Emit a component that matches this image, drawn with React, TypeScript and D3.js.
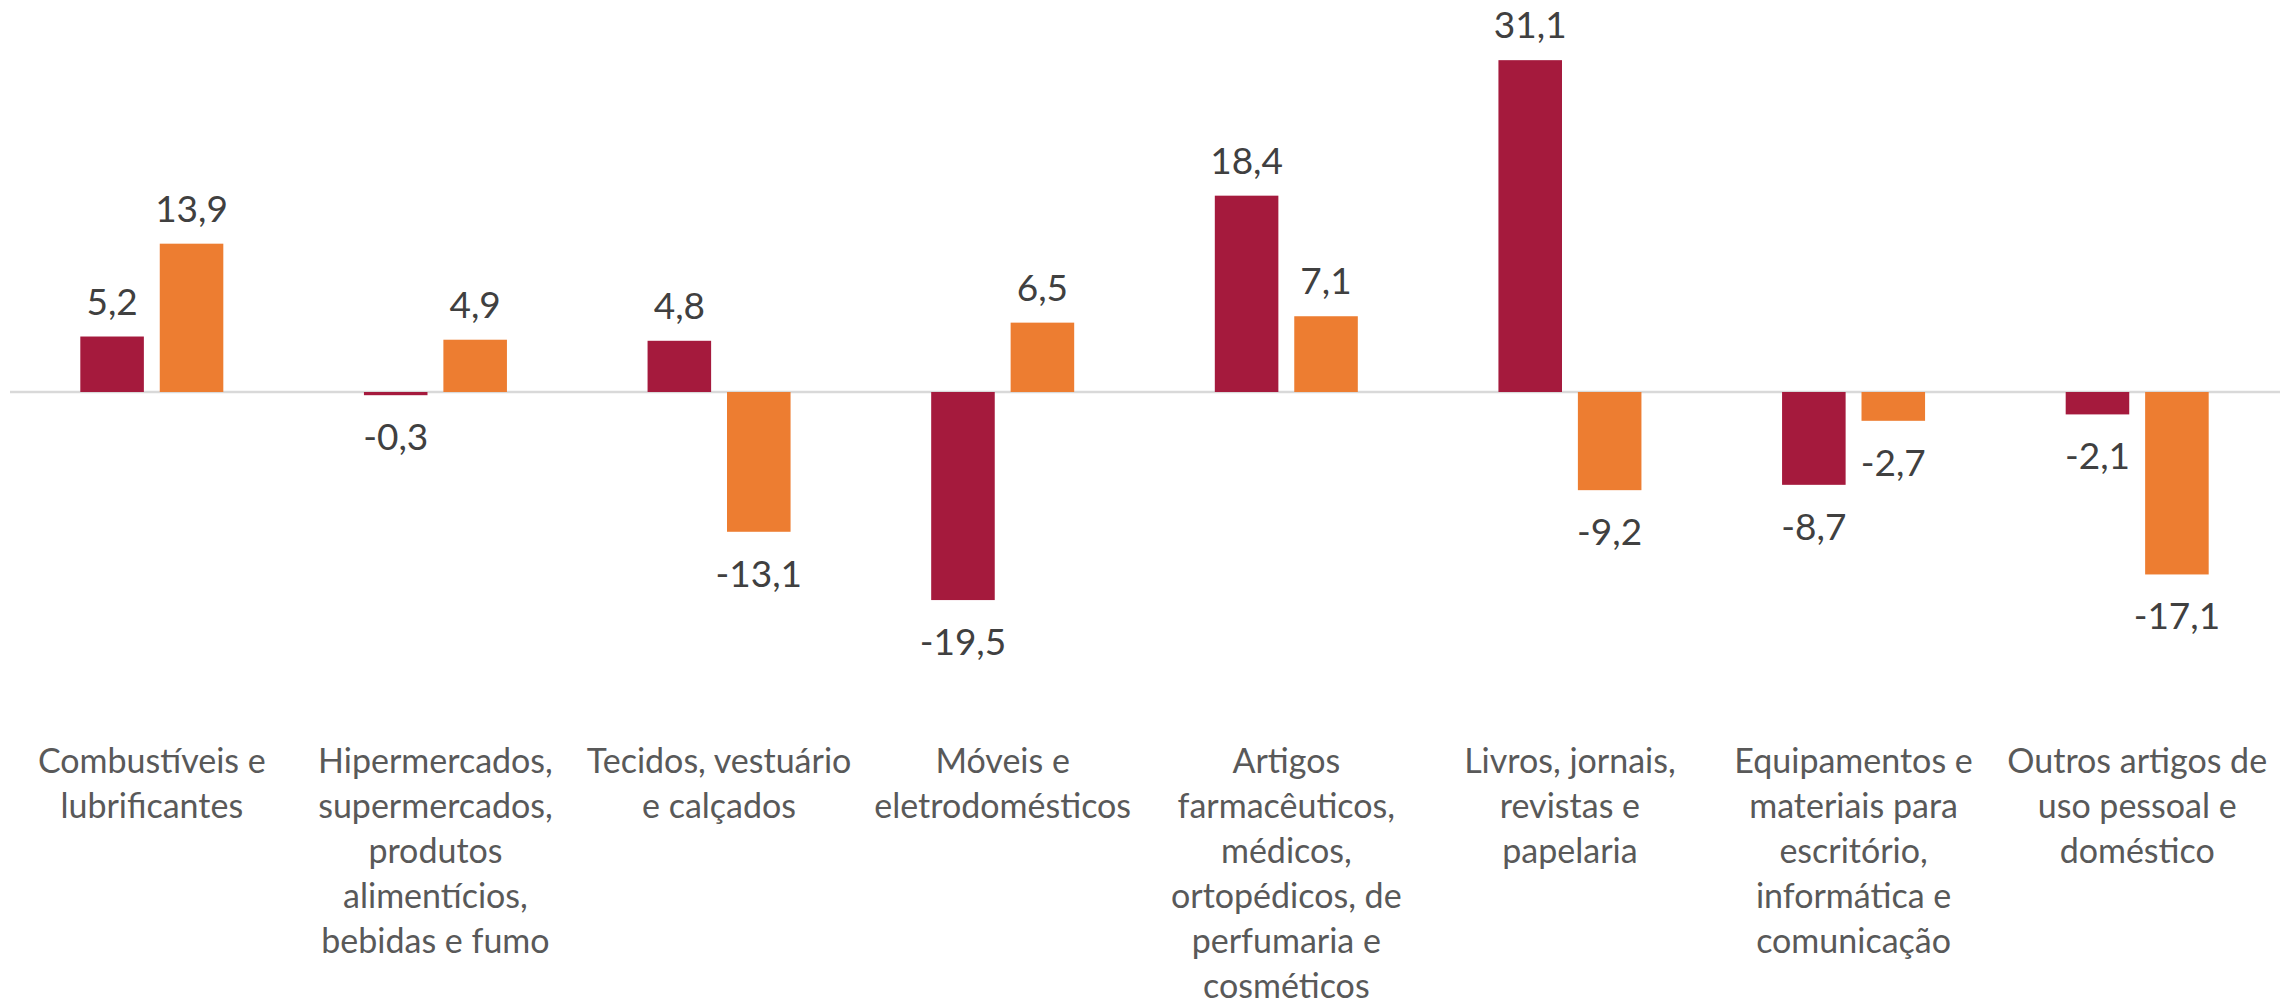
import React from 'react';
import * as d3 from 'd3';

// categorias (quebras de linha como no gráfico original)
const categories = [
  ['Combustíveis e', 'lubrificantes'],
  ['Hipermercados,', 'supermercados,', 'produtos', 'alimentícios,', 'bebidas e fumo'],
  ['Tecidos, vestuário', 'e calçados'],
  ['Móveis e', 'eletrodomésticos'],
  ['Artigos', 'farmacêuticos,', 'médicos,', 'ortopédicos, de', 'perfumaria e', 'cosméticos'],
  ['Livros, jornais,', 'revistas e', 'papelaria'],
  ['Equipamentos e', 'materiais para', 'escritório,', 'informática e', 'comunicação'],
  ['Outros artigos de', 'uso pessoal e', 'doméstico'],
];

const seriesA = [5.2, -0.3, 4.8, -19.5, 18.4, 31.1, -8.7, -2.1];
const seriesB = [13.9, 4.9, -13.1, 6.5, 7.1, -9.2, -2.7, -17.1];
const seriesKeys = ['a', 'b'];
const colors = ['#A51A3D', '#ED7D31'];

const W = 2287;
const H = 1005;
const FONT = 'Lato, "Open Sans", sans-serif';

export default function App() {
  const ids = categories.map((_, i) => String(i));
  const x0 = d3.scaleBand().domain(ids).range([10, 2279]).padding(0);
  const x1 = d3.scaleBand().domain(seriesKeys).range([0, 143]).paddingInner(0.2).paddingOuter(0);
  const y = d3.scaleLinear().domain([-25, 35]).range([392 + 25 * 10.67, 392 - 35 * 10.67]);

  const fmt = (v: number) => d3.format('.1f')(v).replace('.', ',').replace('−', '-');

  const rows = ids.map((id, i) => ({ id, vals: [seriesA[i], seriesB[i]] }));

  return (
    <svg width={W} height={H} style={{ position: 'absolute', left: 0, top: 0, background: '#fff' }}>
      <line x1={10} x2={2280} y1={y(0)} y2={y(0)} stroke="#D9D9D9" strokeWidth={2.5} />
      {rows.map((r) => {
        const cx = x0(r.id)! + x0.bandwidth() / 2;
        const gx = cx - 143 / 2;
        return (
          <g key={r.id}>
            {r.vals.map((v, k) => {
              const bx = gx + x1(seriesKeys[k])!;
              const top = y(Math.max(0, v));
              const bot = y(Math.min(0, v));
              const lx = bx + x1.bandwidth() / 2;
              const ly = v >= 0 ? top - 22 : bot + 55;
              return (
                <g key={k}>
                  <rect x={bx} y={top} width={x1.bandwidth()} height={bot - top} fill={colors[k]} />
                  <text x={lx} y={ly} textAnchor="middle" fontFamily={FONT} fontSize={37} fill="#404040">
                    {fmt(v)}
                  </text>
                </g>
              );
            })}
            <text textAnchor="middle" fontFamily={FONT} fontSize={34} fill="#595959">
              {categories[+r.id].map((line, j) => (
                <tspan key={j} x={cx} y={773 + j * 45}>
                  {line}
                </tspan>
              ))}
            </text>
          </g>
        );
      })}
    </svg>
  );
}
